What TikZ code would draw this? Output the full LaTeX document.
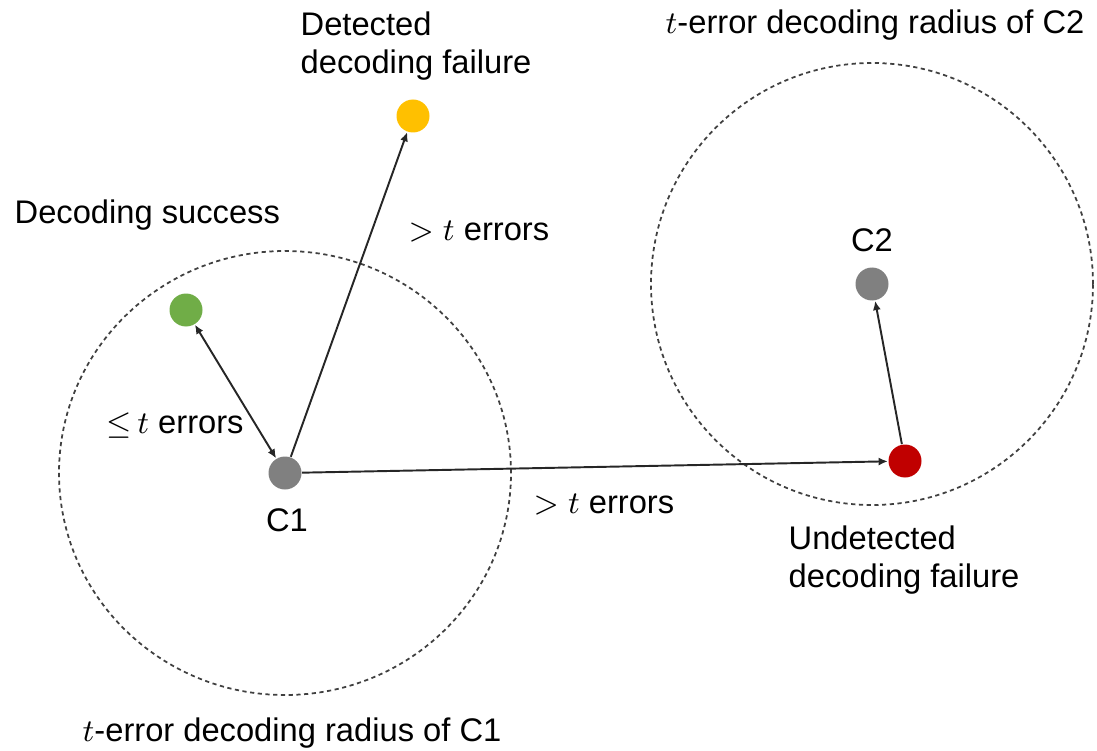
\documentclass[tikz,border=0pt]{standalone}
\usepackage{amsmath,amssymb}
\usepackage{fontspec}
\setmainfont{Liberation Sans}
\usetikzlibrary{arrows.meta}
\definecolor{cgray}{HTML}{808080}
\definecolor{cgreen}{HTML}{70AD47}
\definecolor{cyellow}{HTML}{FFC000}
\definecolor{cred}{HTML}{C00000}
\tikzset{
  dot/.style={circle, minimum size=0.33cm, inner sep=0pt},
  lbl/.style={anchor=west, align=left, inner sep=0pt,
              font=\fontsize{9.3}{10.6}\selectfont},
  ring/.style={black!75, line width=0.5pt, dash pattern=on 1.2pt off 1pt},
  arr/.style={-{Latex[length=2.6pt,width=2.3pt]}, line width=0.55pt, black!85},
  darr/.style={{Latex[length=2.6pt,width=2.3pt]}-{Latex[length=2.6pt,width=2.3pt]},
               line width=0.55pt, black!85},
}

\begin{document}
\begin{tikzpicture}
  \useasboundingbox (0,0) rectangle (10.97,7.5);
  \node[dot, fill=cgray]   (c1)  at (2.85,2.77) {};
  \node[dot, fill=cgreen]  (ok)  at (1.86,4.40) {};
  \node[dot, fill=cyellow] (det) at (4.13,6.34) {};
  \node[dot, fill=cred]    (und) at (9.05,2.89) {};
  \node[dot, fill=cgray]   (c2)  at (8.72,4.66) {};

  \draw[ring] (c1) ellipse (2.26 and 2.22);
  \draw[ring] (c2) circle (2.21);

  \draw[darr] (ok) -- (c1);
  \draw[arr] (c1) -- (det);
  \draw[arr] (c1) -- (und);
  \draw[arr] (und) -- (c2);

  \node[lbl] (ldet) at (3.00,7.04) {Detected\\decoding failure};
  \node[lbl] (lok)  at (0.14,5.35) {Decoding success};
  \node[lbl] (egt1) at (4.08,5.18) {$>t$ errors};
  \node[lbl] (ele)  at (1.06,3.24) {${\leq}\mkern3mu t$ errors};
  \node[lbl] (egt2) at (5.33,2.45) {$>t$ errors};
  \node[lbl] (lund) at (7.88,1.90) {Undetected\\decoding failure};
  \node[lbl, anchor=center] (lc1) at (2.87,2.30) {C1};
  \node[lbl, anchor=center] (lc2) at (8.72,5.10) {C2};
  \node[lbl] (rad2) at (6.65,7.25) {$t$-error decoding radius of C2};
  \node[lbl] (rad1) at (0.82,0.17) {$t$-error decoding radius of C1};
\end{tikzpicture}
\end{document}
